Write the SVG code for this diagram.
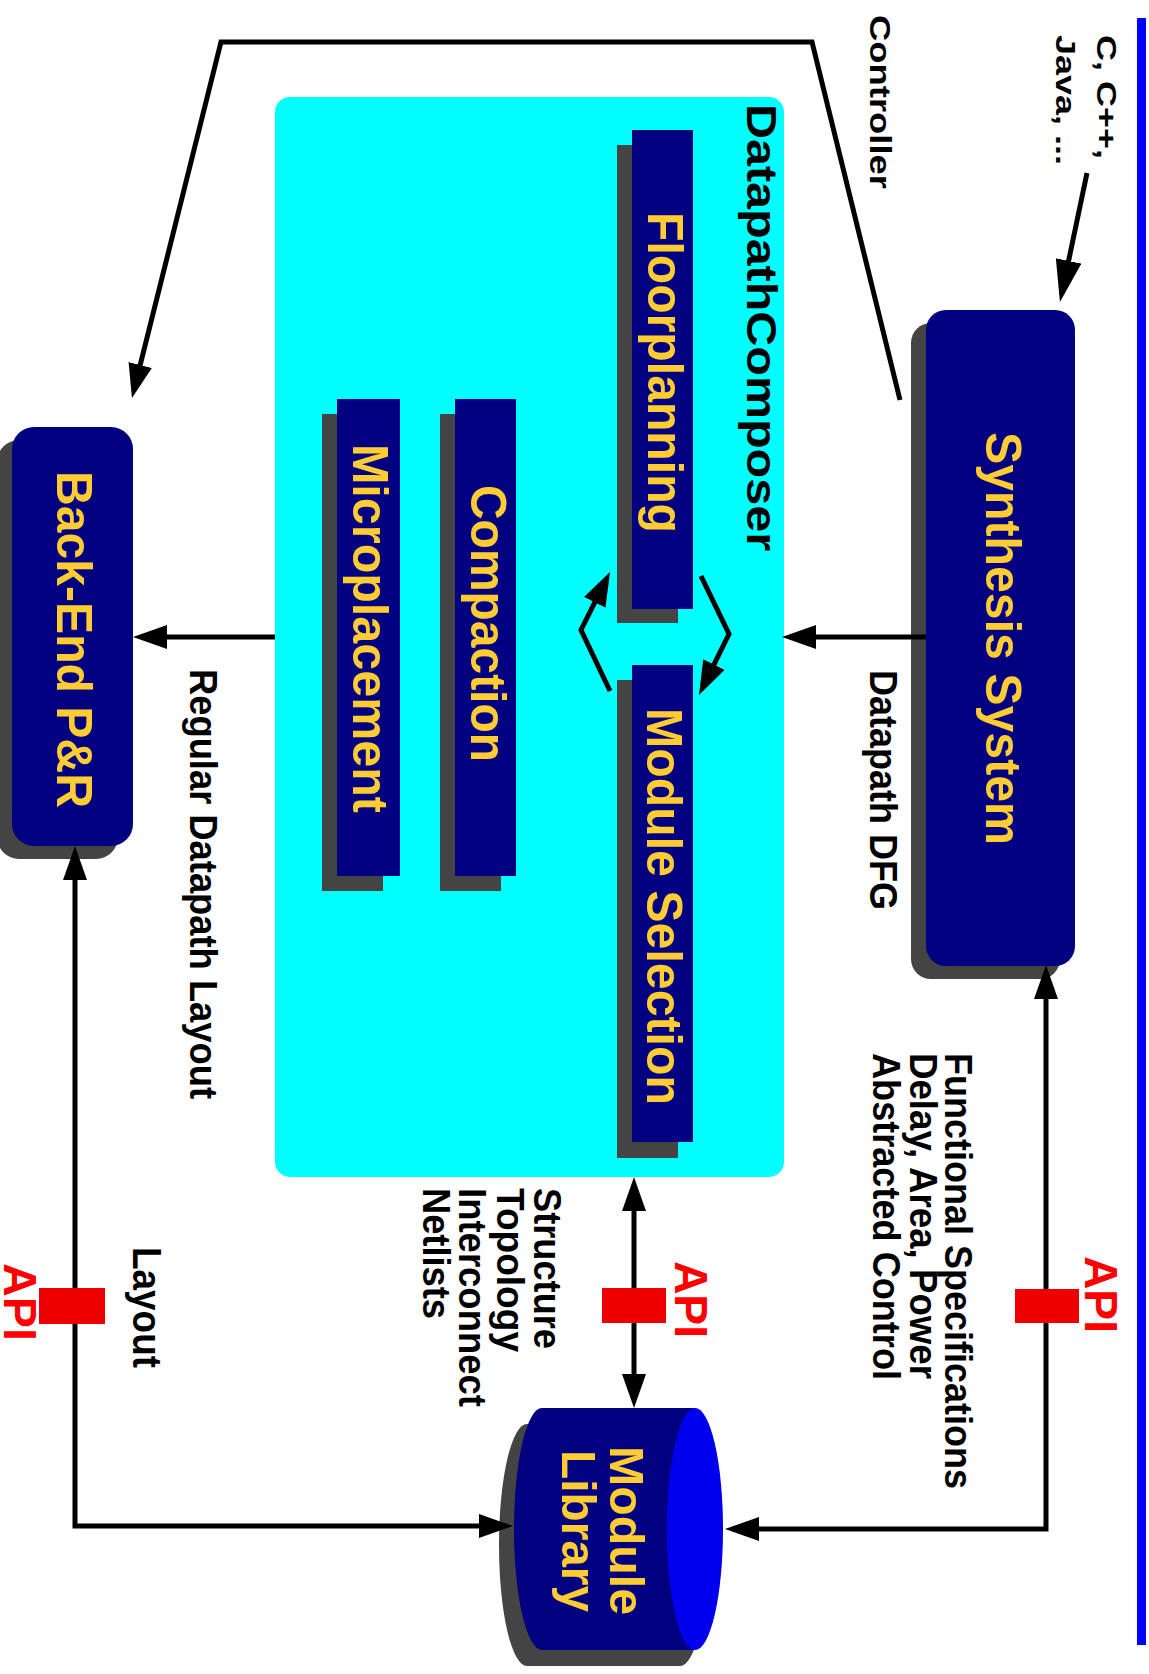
<svg xmlns="http://www.w3.org/2000/svg" width="1149" height="1674" viewBox="0 0 1149 1674">
<defs>
<style>
.t{font-family:"Liberation Sans",Arial,Helvetica,sans-serif;font-weight:bold}
.k{fill:#000000}
.g{fill:#FFCC33}
.r{fill:#FF0000}
.navy{fill:#000080}
.sh{fill:#444444}
.api{fill:#EE0000}
.c{fill:none;stroke:#000000;stroke-width:5;stroke-linejoin:miter}
</style>
<marker id="ah" markerUnits="userSpaceOnUse" markerWidth="34" markerHeight="24" viewBox="0 0 34 24" refX="26" refY="12" orient="auto-start-reverse"><path d="M0,0 L34,12 L0,24 z" fill="#000000"/></marker>
<marker id="ahb" markerUnits="userSpaceOnUse" markerWidth="42" markerHeight="26" viewBox="0 0 42 26" refX="34" refY="13" orient="auto"><path d="M0,0 L42,13 L0,26 z" fill="#000000"/></marker>
</defs>
<rect width="1149" height="1674" fill="#FFFFFF"/>
<rect id="blue-rule" x="1137" y="18" width="9" height="1627" fill="#0000FF"/>

<g id="input-label">
<text class="t k" font-size="28" textLength="124" lengthAdjust="spacingAndGlyphs" transform="translate(1097,35) rotate(90)">C, C++,</text>
<text class="t k" font-size="28" textLength="130" lengthAdjust="spacingAndGlyphs" transform="translate(1056,35) rotate(90)">Java, ...</text>
</g>
<g id="controller-label">
<text class="t k" font-size="30" textLength="174" lengthAdjust="spacingAndGlyphs" transform="translate(870,15) rotate(90)">Controller</text>
</g>

<g id="synthesis-system">
<rect class="sh" x="911" y="323" width="149" height="656" rx="20"/>
<rect class="navy" x="926" y="310" width="149" height="656" rx="20"/>
<text class="t g" font-size="50" textLength="413" lengthAdjust="spacingAndGlyphs" transform="translate(986,432) rotate(90)">Synthesis System</text>
</g>

<g id="datapath-composer">
<rect x="275" y="97" width="509" height="1080" rx="15" fill="#00FFFF"/>
<text class="t k" font-size="42" textLength="447" lengthAdjust="spacingAndGlyphs" transform="translate(747,104) rotate(90)">DatapathComposer</text>
</g>

<g id="floorplanning">
<rect class="sh" x="617" y="145" width="61" height="478"/>
<rect class="navy" x="632" y="130" width="61" height="479"/>
<text class="t g" font-size="50" textLength="321" lengthAdjust="spacingAndGlyphs" transform="translate(648,212) rotate(90)">Floorplanning</text>
</g>

<g id="module-selection">
<rect class="sh" x="617" y="680" width="61" height="478"/>
<rect class="navy" x="632" y="665" width="61" height="477"/>
<text class="t g" font-size="50" textLength="397" lengthAdjust="spacingAndGlyphs" transform="translate(647,708) rotate(90)">Module Selection</text>
</g>

<g id="compaction">
<rect class="sh" x="440" y="414" width="61" height="477"/>
<rect class="navy" x="455" y="399" width="61" height="477"/>
<text class="t g" font-size="50" textLength="277" lengthAdjust="spacingAndGlyphs" transform="translate(471,485) rotate(90)">Compaction</text>
</g>

<g id="microplacement">
<rect class="sh" x="322" y="414" width="61" height="477"/>
<rect class="navy" x="337" y="399" width="63" height="477"/>
<text class="t g" font-size="50" textLength="369" lengthAdjust="spacingAndGlyphs" transform="translate(353,444) rotate(90)">Microplacement</text>
</g>

<g id="back-end">
<rect class="sh" x="-3" y="440" width="121" height="419" rx="22"/>
<rect class="navy" x="12" y="427" width="121" height="419" rx="22"/>
<text class="t g" font-size="50" textLength="337" lengthAdjust="spacingAndGlyphs" transform="translate(57,471) rotate(90)">Back-End P&amp;R</text>
</g>

<g id="module-library">
<path class="sh" d="M680,1424 L527,1424 A28 121 0 0 0 527,1666 L680,1666 A28 121 0 0 0 680,1424 Z"/>
<path class="navy" d="M695,1408 L542,1408 A28 121 0 0 0 542,1650 L695,1650 Z"/>
<ellipse cx="695" cy="1529" rx="28" ry="121" fill="#0000EE"/>
<text class="t g" font-size="49" textLength="169" lengthAdjust="spacingAndGlyphs" transform="translate(610,1446) rotate(90)">Module</text>
<text class="t g" font-size="49" textLength="162" lengthAdjust="spacingAndGlyphs" transform="translate(562,1450) rotate(90)">Library</text>
</g>

<g id="labels">
<text class="t k" font-size="38" textLength="240" lengthAdjust="spacingAndGlyphs" transform="translate(870,670) rotate(90)">Datapath DFG</text>
<text class="t k" font-size="39" textLength="430" lengthAdjust="spacingAndGlyphs" transform="translate(190,669) rotate(90)">Regular Datapath Layout</text>
<text class="t k" font-size="40" textLength="121" lengthAdjust="spacingAndGlyphs" transform="translate(133,1247) rotate(90)">Layout</text>
<text class="t k" font-size="38" textLength="161" lengthAdjust="spacingAndGlyphs" transform="translate(534,1188) rotate(90)">Structure</text>
<text class="t k" font-size="38" textLength="164" lengthAdjust="spacingAndGlyphs" transform="translate(497,1188) rotate(90)">Topology</text>
<text class="t k" font-size="38" textLength="219" lengthAdjust="spacingAndGlyphs" transform="translate(459,1188) rotate(90)">Interconnect</text>
<text class="t k" font-size="38" textLength="131" lengthAdjust="spacingAndGlyphs" transform="translate(423,1188) rotate(90)">Netlists</text>
<text class="t k" font-size="39" textLength="436" lengthAdjust="spacingAndGlyphs" transform="translate(945,1053) rotate(90)">Functional Specifications</text>
<text class="t k" font-size="39" textLength="326" lengthAdjust="spacingAndGlyphs" transform="translate(910,1053) rotate(90)">Delay, Area, Power</text>
<text class="t k" font-size="39" textLength="327" lengthAdjust="spacingAndGlyphs" transform="translate(873,1053) rotate(90)">Abstracted Control</text>
</g>

<g id="connectors">
<path class="c" d="M1087,173 L1061.6,294.2" marker-end="url(#ahb)"/>
<path class="c" d="M900,400 L812,42 L221,42 L133.9,390.2" marker-end="url(#ah)"/>
<path class="c" d="M926,637 L790,637" marker-end="url(#ah)"/>
<path class="c" d="M275,637 L141,637" marker-end="url(#ah)"/>
<path class="c" d="M701,576 L729,634 L702.5,687.8" marker-end="url(#ah)"/>
<path class="c" d="M610,691 L581,630 L606.4,579.2" marker-end="url(#ah)"/>
<path class="c" d="M634,1185 L634,1400" marker-start="url(#ah)" marker-end="url(#ah)"/>
<path class="c" d="M75,854 L75,1526 L505,1526" marker-start="url(#ah)" marker-end="url(#ah)"/>
<path class="c" d="M1046,973 L1046,1529 L733,1529" marker-start="url(#ah)" marker-end="url(#ah)"/>
</g>

<g id="api-left">
<rect class="api" x="39" y="1288" width="66" height="36"/>
<text class="t r" font-size="47" textLength="78" lengthAdjust="spacingAndGlyphs" transform="translate(4,1263) rotate(90)">API</text>
</g>
<g id="api-middle">
<rect class="api" x="602" y="1288" width="64" height="35"/>
<text class="t r" font-size="46" textLength="77" lengthAdjust="spacingAndGlyphs" transform="translate(675,1261) rotate(90)">API</text>
</g>
<g id="api-right">
<rect class="api" x="1015" y="1289" width="64" height="34"/>
<text class="t r" font-size="47" textLength="77" lengthAdjust="spacingAndGlyphs" transform="translate(1085,1256) rotate(90)">API</text>
</g>
</svg>
